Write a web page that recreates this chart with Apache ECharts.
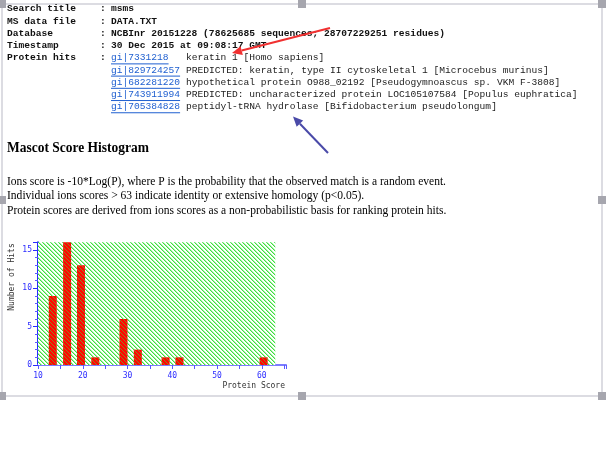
<!DOCTYPE html>
<html><head><meta charset="utf-8">
<script src="https://cdn.jsdelivr.net/npm/echarts@6/dist/echarts.min.js"></script>
<style>html,body{margin:0;padding:0;background:#fff}#c{width:613px;height:460px}</style>
</head><body><div id="c"></div>
<script>
// ---------- data ----------
const headerLabels = ['Search title', 'MS data file', 'Database', 'Timestamp', 'Protein hits'];
const headerValues = ['msms', 'DATA.TXT', 'NCBInr 20151228 (78625685 sequences; 28707229251 residues)', '30 Dec 2015 at 09:08:17 GMT'];
const hitIds = ['gi|7331218', 'gi|829724257', 'gi|682281220', 'gi|743911994', 'gi|705384828'];
const hitDescs = [
  'keratin 1 [Homo sapiens]',
  'PREDICTED: keratin, type II cytoskeletal 1 [Microcebus murinus]',
  'hypothetical protein O988_02192 [Pseudogymnoascus sp. VKM F-3808]',
  'PREDICTED: uncharacterized protein LOC105107584 [Populus euphratica]',
  'peptidyl-tRNA hydrolase [Bifidobacterium pseudolongum]'
];
const histTitle = 'Mascot Score Histogram';
const noteLines = [
  'Ions score is -10*Log(P), where P is the probability that the observed match is a random event.',
  'Individual ions scores > 63 indicate identity or extensive homology (p<0.05).',
  'Protein scores are derived from ions scores as a non-probabilistic basis for ranking protein hits.'
];
const scoreBins = [13.3, 16.5, 19.6, 22.8, 29.1, 32.3, 38.5, 41.6, 60.4];
const hitCounts = [9, 16, 13, 1, 6, 2, 1, 1, 1];
const scoreThreshold = 63;
const xAxisTitle = 'Protein Score';
const yAxisTitle = 'Number of Hits';

// ---------- helpers ----------
const mctx = document.createElement('canvas').getContext('2d');
function textW(t, font) { mctx.font = font; return mctx.measureText(t).width; }
function txt(text, x, y, font, fill, extra) {
  return Object.assign({
    type: 'text', x: x, y: y, z: 10,
    style: { text: text, font: font, fill: fill, align: 'left', verticalAlign: 'middle', textAlign: 'left', textVerticalAlign: 'middle' }
  }, extra || {});
}
function pattern(size, fn) {
  const c = document.createElement('canvas'); c.width = size; c.height = size;
  const g = c.getContext('2d');
  for (let y = 0; y < size; y++) for (let x = 0; x < size; x++) { g.fillStyle = fn(x, y); g.fillRect(x, y, 1, 1); }
  return { image: c, repeat: 'repeat' };
}
const greenHatch = pattern(4, (x, y) => { const k = ((x - y) % 4 + 4) % 4; return k === 0 ? '#3ee03e' : (k === 1 ? '#a8f4a8' : '#ffffff'); });
const redHatch = pattern(4, (x, y) => { const k = ((x - y) % 4 + 4) % 4; return k === 0 ? '#9a7a20' : '#ff0800'; });

const MONO = '9.6px "Liberation Mono"';
const MONOB = 'bold 9.6px "Liberation Mono"';
const rowY = i => 9 + 12.22 * i;
const graphics = [];

// frame
const frameCol = '#d0d0d8', handleCol = '#a6a6ae';
[[2, 4, 602, 4], [2, 396, 602, 396], [2, 4, 2, 396], [602, 4, 602, 396]].forEach(l =>
  graphics.push({ type: 'line', z: 1, shape: { x1: l[0], y1: l[1], x2: l[2], y2: l[3] }, style: { stroke: frameCol, lineWidth: 1.5 } }));
[[2, 4], [302, 4], [602, 4], [2, 200], [602, 200], [2, 396], [302, 396], [602, 396]].forEach(p =>
  graphics.push({ type: 'rect', z: 2, shape: { x: p[0] - 4, y: p[1] - 4, width: 8, height: 8 }, style: { fill: handleCol } }));

// header block
headerLabels.forEach((lab, i) => {
  graphics.push(txt(lab, 7, rowY(i), MONOB, '#111'));
  graphics.push(txt(':', 100, rowY(i), MONOB, '#111'));
  if (i < headerValues.length) graphics.push(txt(headerValues[i], 111, rowY(i), MONOB, '#111'));
});
hitIds.forEach((id, k) => {
  const y = rowY(4 + k);
  graphics.push(txt(id, 111, y, MONO, '#1f5fd0'));
  graphics.push({ type: 'line', z: 10, shape: { x1: 111, y1: y + 6, x2: 111 + textW(id, MONO), y2: y + 6 }, style: { stroke: '#1f5fd0', lineWidth: 1 } });
  graphics.push(txt(hitDescs[k], 186, y, MONO, '#222'));
});

// heading and notes
const HFONT = 'bold 15px "Liberation Serif"';
graphics.push(txt(histTitle, 7, 148, HFONT, '#000', { scaleX: 142 / textW(histTitle, HFONT) }));
const PFONT = '13px "Liberation Serif"';
const pScale = 439 / textW(noteLines[0], PFONT);
noteLines.forEach((t, i) => graphics.push(txt(t, 7, 181.7 + 14.3 * i, PFONT, '#000', { scaleX: pScale })));

// axis titles
const AFONT = '8px "DejaVu Sans Mono"';
graphics.push(txt(yAxisTitle, 12, 277, AFONT, '#333', { rotation: Math.PI / 2, style: { text: yAxisTitle, font: AFONT, fill: '#333', align: 'center', verticalAlign: 'middle', textAlign: 'center', textVerticalAlign: 'middle' } }));
graphics.push(txt(xAxisTitle, 285, 386, AFONT, '#333', { style: { text: xAxisTitle, font: AFONT, fill: '#333', align: 'right', verticalAlign: 'middle', textAlign: 'right', textVerticalAlign: 'middle' } }));

// annotation arrows
function arrow(x1, y1, x2, y2, col, w) {
  const a = Math.atan2(y2 - y1, x2 - x1), L = 10, H = 4.5;
  const bx = x2 - L * Math.cos(a), by = y2 - L * Math.sin(a);
  graphics.push({ type: 'line', z: 20, shape: { x1: x1, y1: y1, x2: bx, y2: by }, style: { stroke: col, lineWidth: w } });
  graphics.push({ type: 'polygon', z: 20, shape: { points: [[x2, y2], [bx - H * Math.sin(a), by + H * Math.cos(a)], [bx + H * Math.sin(a), by - H * Math.cos(a)]] }, style: { fill: col } });
}
arrow(330, 28, 232, 53, '#f03030', 2);
arrow(328, 153, 293, 116.5, '#4a4aa8', 2);

const chart = echarts.init(document.getElementById('c'), null, { renderer: 'canvas' });
chart.setOption({
  backgroundColor: '#fff',
  animation: false,
  grid: { left: 38, top: 242.3, width: 248, height: 122.7 },
  xAxis: {
    type: 'value', min: 10, max: 65.4, interval: 10,
    axisLine: { lineStyle: { color: '#7c7cff', width: 2 } },
    axisTick: { length: 4, lineStyle: { color: '#5a5aff', width: 1 } },
    minorTick: { show: true, splitNumber: 2, length: 4, lineStyle: { color: '#5a5aff', width: 1 } },
    axisLabel: { color: '#2c2cff', fontSize: 8, fontFamily: 'DejaVu Sans Mono', margin: 7, formatter: v => (v % 10 === 0 ? String(v) : '') },
    splitLine: { show: false }, minorSplitLine: { show: false }
  },
  yAxis: {
    type: 'value', min: 0, max: 16, interval: 5,
    axisLine: { show: true, lineStyle: { color: '#2a2aff', width: 2 } },
    axisTick: { show: true, length: 5, lineStyle: { color: '#2a2aff', width: 1 } },
    minorTick: { show: true, splitNumber: 5, length: 3, lineStyle: { color: '#5a5aff', width: 1 } },
    axisLabel: { color: '#2c2cff', fontSize: 8, fontFamily: 'DejaVu Sans Mono', margin: 6, formatter: v => (v % 5 === 0 ? String(v) : '') },
    splitLine: { show: false }, minorSplitLine: { show: false }
  },
  series: [{
    type: 'bar', barWidth: 8, z: 3,
    data: scoreBins.map((x, i) => [x, hitCounts[i]]),
    itemStyle: { color: redHatch, opacity: 1 },
    markArea: {
      silent: true, z: 1,
      itemStyle: { color: greenHatch, opacity: 1 },
      data: [[{ xAxis: 10, yAxis: 0 }, { xAxis: scoreThreshold, yAxis: 16 }]]
    }
  }],
  graphic: { elements: graphics }
});
</script></body></html>
